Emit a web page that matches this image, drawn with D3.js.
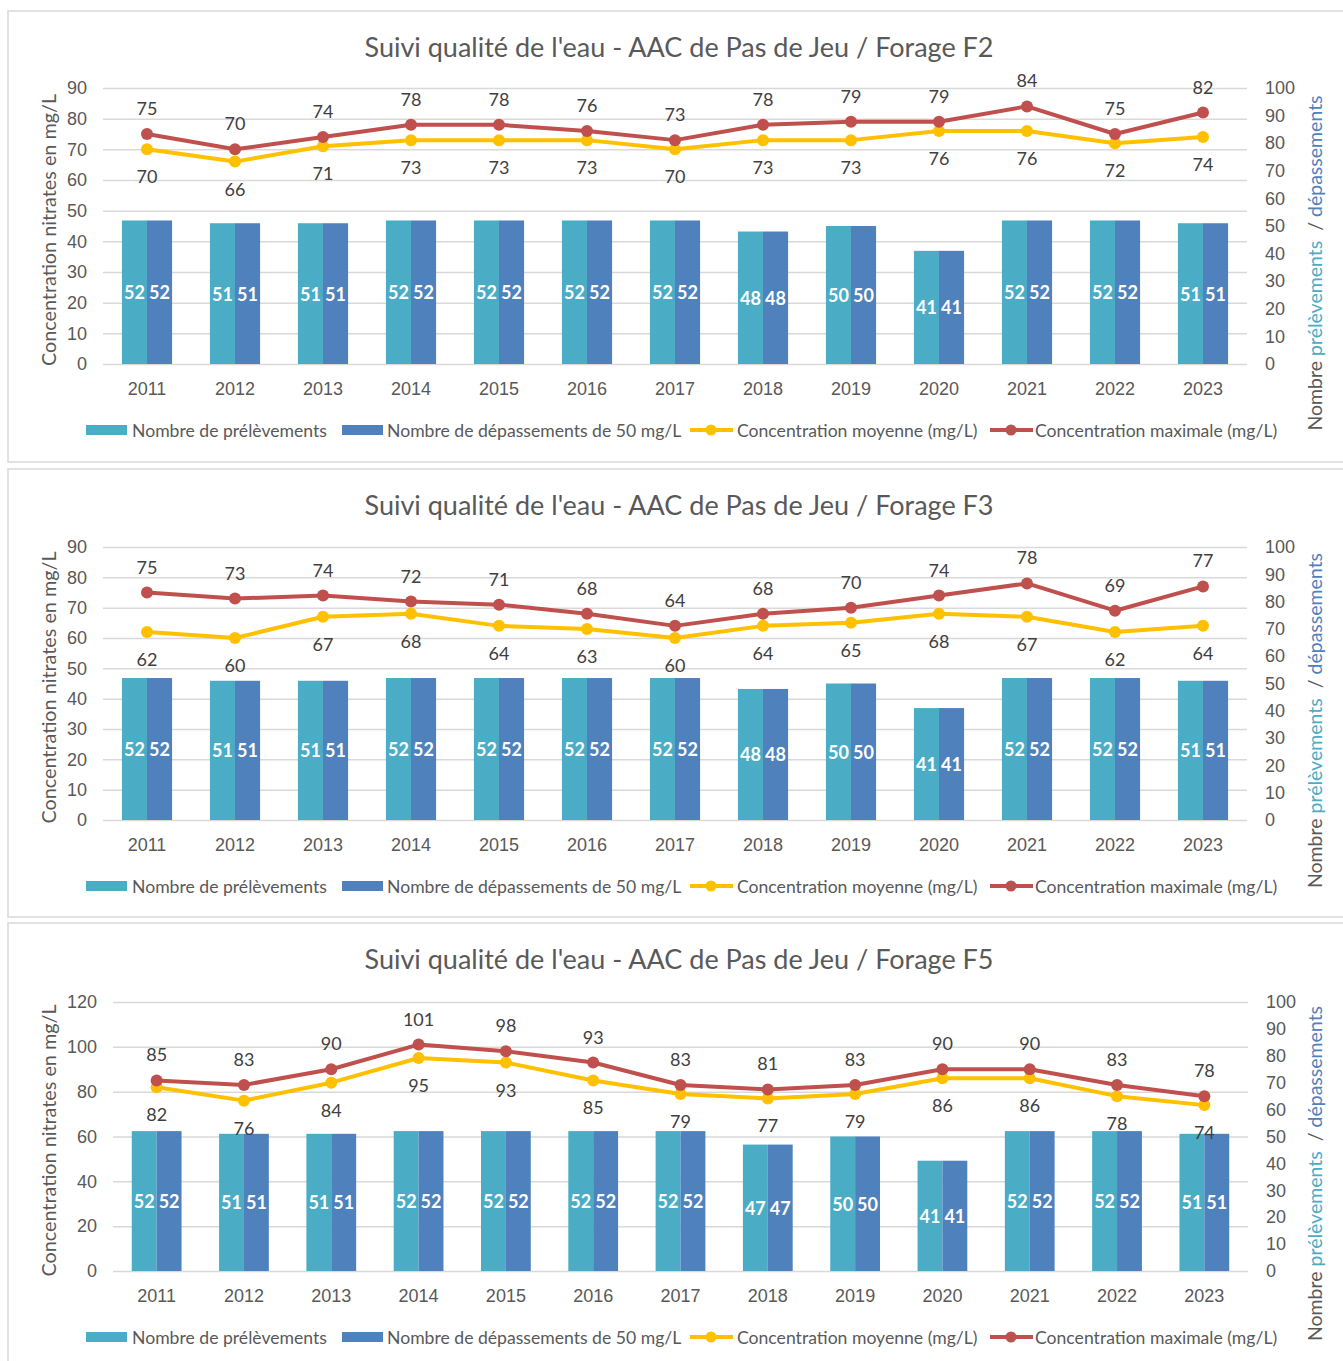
<!DOCTYPE html>
<html>
<head>
<meta charset="utf-8">
<script src="https://cdn.jsdelivr.net/npm/d3@7"></script>
<style>
  body { margin: 0; background: #fff; }
  svg { font-family: Lato, "Open Sans", sans-serif; }
  .tick text { fill: #595959; font-size: 18px; }
  .grid line { stroke: #d9d9d9; stroke-width: 1.5; }
</style>
</head>
<body>
<script>
(function(){

//categories
var years = ["2011","2012","2013","2014","2015","2016","2017","2018","2019","2020","2021","2022","2023"];

//Forage F2
var f2Max  = [75,70,74,78,78,76,73,78,79,79,84,75,82];
var f2Mean = [70,66,71,73,73,73,70,73,73,76,76,72,74];
var f2Prel = [52,51,51,52,52,52,52,48,50,41,52,52,51];
var f2Dep  = [52,51,51,52,52,52,52,48,50,41,52,52,51];

//Forage F3
var f3Max  = [75,73,74,72,71,68,64,68,70,74,78,69,77];
var f3Mean = [62,60,67,68,64,63,60,64,65,68,67,62,64];
var f3Prel = [52,51,51,52,52,52,52,48,50,41,52,52,51];
var f3Dep  = [52,51,51,52,52,52,52,48,50,41,52,52,51];

//Forage F5
var f5Max  = [85,83,90,101,98,93,83,81,83,90,90,83,78];
var f5Mean = [82,76,84,95,93,85,79,77,79,86,86,78,74];
var f5Prel = [52,51,51,52,52,52,52,47,50,41,52,52,51];
var f5Dep  = [52,51,51,52,52,52,52,47,50,41,52,52,51];

//axis ticks
var leftTicks90 = [0,10,20,30,40,50,60,70,80,90];
var leftTicks120 = [0,20,40,60,80,100,120];
var rightTicks = [0,10,20,30,40,50,60,70,80,90,100];

var legendLabels = ["Nombre de prélèvements", "Nombre de dépassements de 50 mg/L",
                    "Concentration moyenne (mg/L)", "Concentration maximale (mg/L)"];

var colPrel = "#4bacc6", colDep = "#4f81bd", colMean = "#ffc000", colMax = "#c0504d";
var textGray = "#595959", labelGray = "#404040";

var svg = d3.select("body").append("svg")
    .attr("width", 1343)
    .attr("height", 1361);

drawPanel({title: "Suivi qualité de l'eau - AAC de Pas de Jeu / Forage F2",
    top: 11, height: 451, plotTop: 88, plotBottom: 364, plotLeft: 103, plotRight: 1247,
    leftTicks: leftTicks90, maxS: f2Max, meanS: f2Mean, prel: f2Prel, dep: f2Dep});
drawPanel({title: "Suivi qualité de l'eau - AAC de Pas de Jeu / Forage F3",
    top: 469, height: 448, plotTop: 547, plotBottom: 820, plotLeft: 103, plotRight: 1247,
    leftTicks: leftTicks90, maxS: f3Max, meanS: f3Mean, prel: f3Prel, dep: f3Dep});
drawPanel({title: "Suivi qualité de l'eau - AAC de Pas de Jeu / Forage F5",
    top: 923, height: 460, plotTop: 1002, plotBottom: 1271, plotLeft: 113, plotRight: 1248,
    leftTicks: leftTicks120, maxS: f5Max, meanS: f5Mean, prel: f5Prel, dep: f5Dep});

function drawPanel(p){
    var g = svg.append("g");

    //panel frame
    g.append("rect")
        .attr("x", 8).attr("y", p.top)
        .attr("width", 1360).attr("height", p.height)
        .attr("fill", "#fff")
        .attr("stroke", "#d9d9d9")
        .attr("stroke-width", 1.5);

    //title
    g.append("text")
        .attr("x", 679).attr("y", p.top + 35)
        .attr("text-anchor", "middle")
        .attr("dominant-baseline", "central")
        .attr("fill", textGray)
        .style("font-size", "27px")
        .text(p.title);

    var x = d3.scaleBand()
        .domain(years)
        .range([p.plotLeft, p.plotRight])
        .paddingInner(0.43)
        .paddingOuter(0.215);

    var yLeft = d3.scaleLinear()
        .domain([0, d3.max(p.leftTicks)])
        .range([p.plotBottom, p.plotTop]);

    var yRight = d3.scaleLinear()
        .domain([0, 100])
        .range([p.plotBottom, p.plotTop]);

    //gridlines follow the primary axis
    g.append("g")
        .attr("class", "grid")
        .attr("transform", "translate(" + p.plotLeft + ",0)")
        .call(d3.axisLeft(yLeft).tickValues(p.leftTicks).tickSize(-(p.plotRight - p.plotLeft)).tickFormat(""))
        .call(function(s){ s.select(".domain").remove(); });

    //left axis
    g.append("g")
        .attr("transform", "translate(" + (p.plotLeft - 10) + ",0)")
        .call(d3.axisLeft(yLeft).tickValues(p.leftTicks).tickSize(0).tickPadding(6))
        .call(function(s){ s.select(".domain").remove(); });

    //right axis
    g.append("g")
        .attr("transform", "translate(" + (p.plotRight + 12) + ",0)")
        .call(d3.axisRight(yRight).tickValues(rightTicks).tickSize(0).tickPadding(6))
        .call(function(s){ s.select(".domain").remove(); })
        .selectAll("text").attr("text-anchor", "start");

    //x axis
    g.append("g")
        .attr("transform", "translate(0," + p.plotBottom + ")")
        .call(d3.axisBottom(x).tickSize(0).tickPadding(18))
        .call(function(s){ s.select(".domain").remove(); });

    //axis titles
    g.append("text")
        .attr("transform", "translate(48," + ((p.plotTop + p.plotBottom) / 2 + 4) + ") rotate(-90)")
        .attr("text-anchor", "middle")
        .attr("dominant-baseline", "central")
        .attr("fill", textGray)
        .style("font-size", "19.8px")
        .text("Concentration nitrates en mg/L");

    var rt = g.append("text")
        .attr("transform", "translate(1314," + ((p.plotTop + p.plotBottom) / 2 + 37) + ") rotate(-90)")
        .attr("text-anchor", "middle")
        .attr("dominant-baseline", "central")
        .style("font-size", "19.5px")
        .attr("xml:space", "preserve");
    rt.append("tspan").attr("fill", textGray).text("Nombre ");
    rt.append("tspan").attr("fill", colPrel).text("prélèvements");
    rt.append("tspan").attr("fill", textGray).text("  / ");
    rt.append("tspan").attr("fill", colDep).text("dépassements");

    //bars
    var half = x.bandwidth() / 2;
    var barSeries = [{vals: p.prel, color: colPrel, off: 0}, {vals: p.dep, color: colDep, off: half}];
    barSeries.forEach(function(s){
        g.selectAll(null)
            .data(s.vals)
            .enter()
            .append("rect")
            .attr("x", function(d, i){ return x(years[i]) + s.off; })
            .attr("y", function(d){ return yRight(d); })
            .attr("width", half)
            .attr("height", function(d){ return p.plotBottom - yRight(d); })
            .attr("fill", s.color);
        g.selectAll(null)
            .data(s.vals)
            .enter()
            .append("text")
            .attr("x", function(d, i){ return x(years[i]) + s.off + half / 2; })
            .attr("y", function(d){ return (yRight(d) + p.plotBottom) / 2; })
            .attr("text-anchor", "middle")
            .attr("dominant-baseline", "central")
            .attr("fill", "#fff")
            .style("font-size", "18px")
            .style("font-weight", "bold")
            .text(function(d){ return d; });
    });

    //lines
    var cx = function(i){ return x(years[i]) + x.bandwidth() / 2; };
    var line = d3.line()
        .x(function(d, i){ return cx(i); })
        .y(function(d){ return yLeft(d); });

    var lineSeries = [{vals: p.meanS, color: colMean, dy: 27}, {vals: p.maxS, color: colMax, dy: -26}];
    lineSeries.forEach(function(s){
        g.append("path")
            .datum(s.vals)
            .attr("d", line)
            .attr("fill", "none")
            .attr("stroke", s.color)
            .attr("stroke-width", 4)
            .attr("stroke-linejoin", "round");
        g.selectAll(null)
            .data(s.vals)
            .enter()
            .append("circle")
            .attr("cx", function(d, i){ return cx(i); })
            .attr("cy", function(d){ return yLeft(d); })
            .attr("r", 6)
            .attr("fill", s.color);
    });
    //data labels on top of everything
    lineSeries.forEach(function(s){
        g.selectAll(null)
            .data(s.vals)
            .enter()
            .append("text")
            .attr("x", function(d, i){ return cx(i); })
            .attr("y", function(d){ return yLeft(d) + s.dy; })
            .attr("text-anchor", "middle")
            .attr("dominant-baseline", "central")
            .attr("fill", labelGray)
            .style("font-size", "18px")
            .text(function(d){ return d; });
    });

    //legend
    var ly = p.plotBottom + 66;
    var legendX = [86, 342, 690, 990];
    var legendTextX = [132, 387, 737, 1035];
    var lg = g.append("g");
    [colPrel, colDep].forEach(function(c, i){
        lg.append("rect")
            .attr("x", legendX[i]).attr("y", ly - 5)
            .attr("width", 41).attr("height", 10)
            .attr("fill", c);
    });
    [colMean, colMax].forEach(function(c, i){
        lg.append("line")
            .attr("x1", legendX[i + 2]).attr("x2", legendX[i + 2] + 43)
            .attr("y1", ly).attr("y2", ly)
            .attr("stroke", c).attr("stroke-width", 4);
        lg.append("circle")
            .attr("cx", legendX[i + 2] + 21).attr("cy", ly)
            .attr("r", 5.5).attr("fill", c);
    });
    legendLabels.forEach(function(t, i){
        lg.append("text")
            .attr("x", legendTextX[i]).attr("y", ly)
            .attr("dominant-baseline", "central")
            .attr("fill", textGray)
            .style("font-size", "17.6px")
            .text(t);
    });
}

})();
</script>
</body>
</html>
